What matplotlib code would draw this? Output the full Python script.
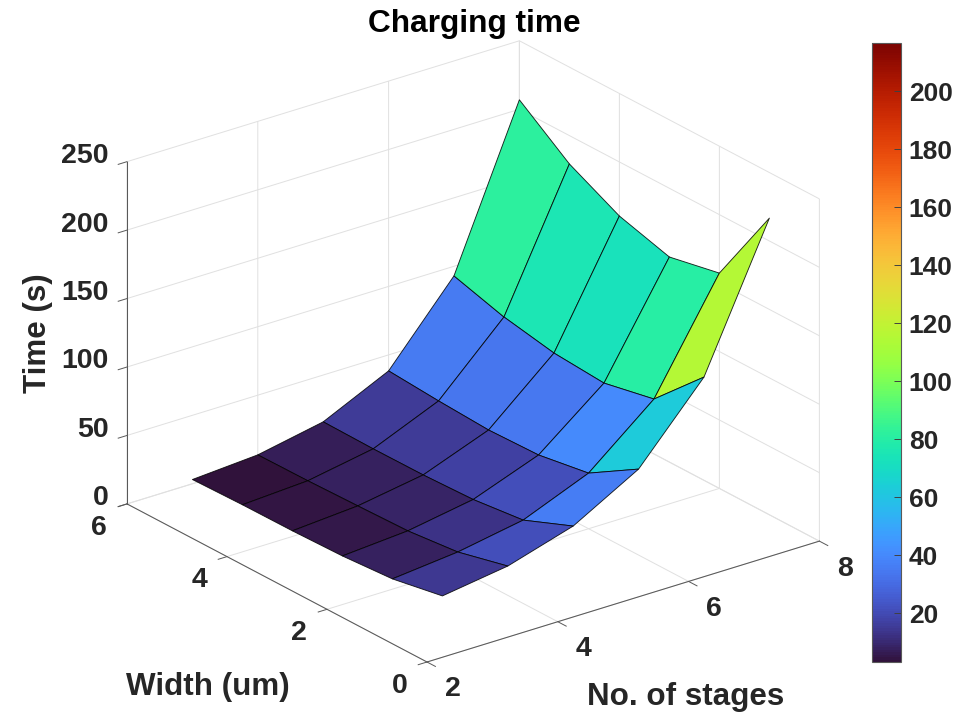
import numpy as np
import matplotlib
matplotlib.use('Agg')
import matplotlib.pyplot as plt
from matplotlib.colors import Normalize
from matplotlib.cm import ScalarMappable
from matplotlib.transforms import Affine2D
from mpl_toolkits.mplot3d import proj3d

plt.rcParams['font.family'] = ['Liberation Sans', 'DejaVu Sans']
plt.rcParams['font.weight'] = 'bold'

stages = [3, 4, 5, 6, 7, 8]
widths = [1, 2, 3, 4, 5, 6]
time_w1 = [14.3, 21.4, 35.9, 62.8, 115.3, 216.7]
time_w2 = [7.5, 12.4, 21.0, 40.6, 80.0, 157.3]
time_w3 = [5.0, 8.6, 16.8, 34.6, 72.4, 149.8]
time_w4 = [4.1, 7.6, 15.5, 33.6, 75.1, 160.5]
time_w5 = [3.9, 6.7, 15.3, 35.6, 82.2, 179.3]
time_w6 = [3.1, 6.4, 15.8, 38.3, 93.0, 206.9]
x_ticks = [2, 4, 6, 8]
y_ticks = [0, 2, 4, 6]
z_ticks = [0, 50, 100, 150, 200, 250]
cbar_ticks = [20, 40, 60, 80, 100, 120, 140, 160, 180, 200]

W, H = 965, 714
TXT = (0.15, 0.15, 0.15)
GRID = (0.88, 0.88, 0.88)
AX = (0.35, 0.35, 0.35)

fig = plt.figure(figsize=(W / 100, H / 100), dpi=100)
ax = fig.add_axes([0.1, 0.1, 0.7, 0.7 * W / H], projection='3d', proj_type='ortho')
ax.view_init(elev=23.76, azim=-127.4)
ax.set_box_aspect((494, 494, 374))

X, Y = np.meshgrid(stages, widths)
Z = np.array([time_w1, time_w2, time_w3, time_w4, time_w5, time_w6])
norm = Normalize(vmin=Z.min(), vmax=Z.max())
cmap = plt.get_cmap('turbo')
surf = ax.plot_surface(X, Y, Z, facecolors=cmap(norm(Z)), shade=False)
surf.set_edgecolor((0, 0, 0, 0.85))
surf.set_linewidth(0.65)

ax.set_xlim(2, 8, view_margin=0)
ax.set_ylim(0, 6, view_margin=0)
ax.set_zlim(0, 250, view_margin=0)
ax.set_xticks(x_ticks)
ax.set_yticks(y_ticks)
ax.set_zticks(z_ticks)


def shift_tick_labels(axis, dx, dy, ha):
    orig = axis.get_major_ticks
    def get_major_ticks(numticks=None):
        ticks = orig(numticks)
        for t in ticks:
            t.label1.set_transform(ax.transData + Affine2D().translate(dx, -dy))
            t.label1.set_ha(ha)
        return ticks
    axis.get_major_ticks = get_major_ticks


for axis, out, pad in ((ax.xaxis, 0.35, 9), (ax.yaxis, 0.28, 9), (ax.zaxis, 0.28, 4)):
    axis.set_pane_color((1, 1, 1, 0))
    axis.pane.set_edgecolor(GRID)
    axis.pane.set_linewidth(0.7)
    axis.line.set_color(AX)
    axis.line.set_linewidth(0.75)
    axis._axinfo['grid'].update(color=GRID, linewidth=0.7)
    axis._axinfo['tick'].update(inward_factor=out, outward_factor=0.0,
                                linewidth={True: 0.7, False: 0.5})
    axis.set_tick_params(labelsize=20.5, labelcolor=TXT, color=AX, pad=pad)

shift_tick_labels(ax.xaxis, 8, -15, 'center')
shift_tick_labels(ax.yaxis, -4.5, -16.5, 'center')
shift_tick_labels(ax.zaxis, 10.5, -17, 'right')

fig.canvas.draw()
def axfrac(x, y, z):
    u, v, _ = proj3d.proj_transform(x, y, z, ax.get_proj())
    return ax.transAxes.inverted().transform(ax.transData.transform((u, v)))
ua, va = axfrac(2, 0, 0)
ub, vb = axfrac(2, 6, 250)
size = (427 - 127) / (ua - ub)
left = 427 - size * ua
bottom = (H - 662) - size * va
ax.set_position([left / W, bottom / H, size / W, size / H])
fig.canvas.draw()

labels = ((ax.xaxis, 'No. of stages', 686, 697, 0),
          (ax.yaxis, 'Width (um)', 208, 687, 0),
          (ax.zaxis, 'Time (s)', 38, 333, 90))
for axis, text, px, py, rot in labels:
    axis.set_label_text(text, fontsize=22.6, color=TXT, fontweight='bold')
    axis.set_rotate_label(False)
    lab = axis.label
    lab.set_rotation(rot)
    lab.set_position(tuple(ax.transData.inverted().transform((px, H - py))))
    lab.set_position = lambda *a, **k: None

ax.set_title('Charging time', fontsize=22.8, fontweight='bold', color='k', va='center', y=1.0, pad=0)
ax.title.set_position(tuple(ax.transAxes.inverted().transform((474, H - 23.7))))

cax = fig.add_axes([871.5 / W, (H - 662) / H, 29 / W, 619 / H])
cb = fig.colorbar(ScalarMappable(norm=norm, cmap=cmap), cax=cax, ticks=cbar_ticks)
cb.ax.tick_params(direction='in', length=5, width=0.7, color=(0.25, 0.25, 0.25),
                  labelsize=19, labelcolor=TXT, pad=6)
cb.outline.set_edgecolor(AX)
cb.outline.set_linewidth(0.8)

fig.savefig('out.png', dpi=100)
